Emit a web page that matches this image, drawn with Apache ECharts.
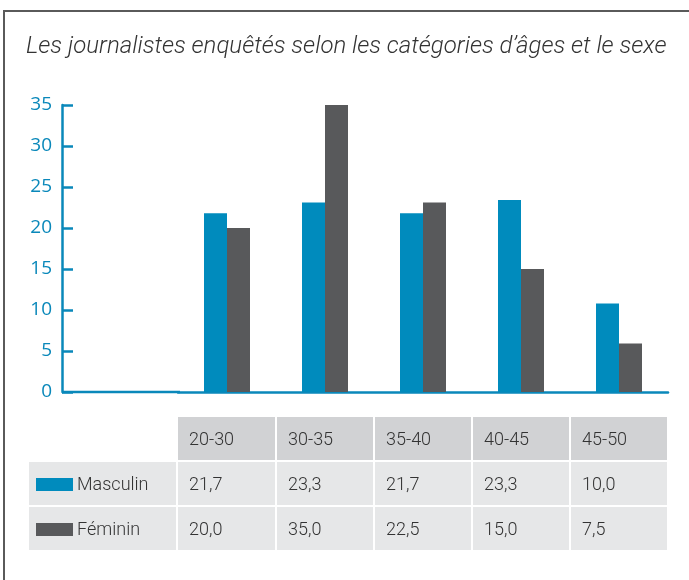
<!DOCTYPE html>
<html>
<head>
<meta charset="utf-8">
<script src="https://cdn.jsdelivr.net/npm/echarts@6/dist/echarts.min.js"></script>
<style>
    html, body { margin: 0; padding: 0; background: #fff; }
    #wrap { position: relative; width: 689px; height: 580px; overflow: hidden; }
    #frame { position: absolute; left: 3px; top: 10px; width: 700px; height: 600px;
        border-left: 2px solid #5a5a5a; border-top: 2px solid #5a5a5a; }
    #chart { position: absolute; left: 0; top: 0; width: 689px; height: 580px; }
    #tbl { position: absolute; left: 29px; top: 417px; border-collapse: separate; border-spacing: 0;
        font-family: Roboto, "Liberation Sans", sans-serif; font-weight: 300; font-size: 18px; color: #333; }
    #tbl td { padding: 0 0 0 11px; height: 45px; border-right: 2px solid #fff; border-bottom: 2px solid #fff; box-sizing: border-box; }
    #tbl td.head { background: #d1d2d4; }
    #tbl td.cell { background: #e6e7e8; }
    #tbl td.blank { background: #fff; }
    #tbl td.leg { padding-left: 7px; }
    .sw { display: inline-block; width: 37px; height: 13px; vertical-align: -1px; margin-right: 4px; }
</style>
</head>
<body>
<div id="wrap">
    <div id="frame"></div>
    <div id="chart"></div>
    <table id="tbl"></table>
</div>
<script>
// 数据
var titleText = 'Les journalistes enquêtés selon les catégories d’âges et le sexe';
var ageGroups = ['20-30', '30-35', '35-40', '40-45', '45-50'];
var seriesNames = ['Masculin', 'Féminin'];
var colors = ['#008bbd', '#58595b'];
// bar heights as drawn in the picture
var masculinBars = [21.8, 23.1, 21.8, 23.4, 10.8];
var femininBars = [20.0, 35.0, 23.1, 15.0, 5.9];
// values printed in the table
var masculinLabels = ['21,7', '23,3', '21,7', '23,3', '10,0'];
var femininLabels = ['20,0', '35,0', '22,5', '15,0', '7,5'];
var yTicks = [0, 5, 10, 15, 20, 25, 30, 35];

var axisColor = '#0a88ba';

var myChart = echarts.init(document.getElementById('chart'));

var option = {
    animation: false,
    title: {
        text: titleText,
        left: 21,
        top: 30,
        textStyle: {
            fontFamily: 'Roboto',
            fontStyle: 'italic',
            fontWeight: 300,
            fontSize: 24,
            color: '#333'
        }
    },
    grid: {
        left: 178,
        right: 21,
        top: 105,
        bottom: 188
    },
    xAxis: {
        type: 'category',
        data: ageGroups,
        axisLine: { lineStyle: { color: axisColor, width: 2.5 } },
        axisTick: { show: false },
        axisLabel: { show: false }
    },
    yAxis: {
        type: 'value',
        min: yTicks[0],
        max: yTicks[yTicks.length - 1],
        interval: 5,
        offset: 116,
        splitLine: { show: false },
        axisLine: { show: true, lineStyle: { color: axisColor, width: 2.5 } },
        axisTick: { show: true, inside: true, length: 11, lineStyle: { color: axisColor, width: 2.5 } },
        axisLabel: {
            margin: 10,
            color: axisColor,
            fontFamily: '"Open Sans", sans-serif',
            fontSize: 19
        }
    },
    graphic: [{
        // prolongement de l'axe x jusqu'à l'axe y
        type: 'line',
        shape: { x1: 62, y1: 392, x2: 180, y2: 392 },
        style: { stroke: axisColor, lineWidth: 2.5 }
    }],
    series: [{
        name: seriesNames[0],
        type: 'bar',
        data: masculinBars,
        barWidth: 23,
        barGap: '0%',
        itemStyle: { color: colors[0] }
    }, {
        name: seriesNames[1],
        type: 'bar',
        data: femininBars,
        barWidth: 23,
        barGap: '0%',
        itemStyle: { color: colors[1] }
    }]
};
myChart.setOption(option);

// tableau sous le graphique
function buildTable() {
    var widths = [149, 99, 98, 98, 98, 98];
    var html = '<tr><td class="blank" style="width:' + widths[0] + 'px"></td>';
    for (var i = 0; i < ageGroups.length; i++) {
        html += '<td class="head" style="width:' + widths[i + 1] + 'px">' + ageGroups[i] + '</td>';
    }
    html += '</tr>';
    var rows = [masculinLabels, femininLabels];
    for (var r = 0; r < rows.length; r++) {
        html += '<tr><td class="cell leg"><span class="sw" style="background:' + colors[r] + '"></span>' + seriesNames[r] + '</td>';
        for (var j = 0; j < rows[r].length; j++) {
            html += '<td class="cell">' + rows[r][j] + '</td>';
        }
        html += '</tr>';
    }
    document.getElementById('tbl').innerHTML = html;
}
buildTable();
</script>
</body>
</html>
